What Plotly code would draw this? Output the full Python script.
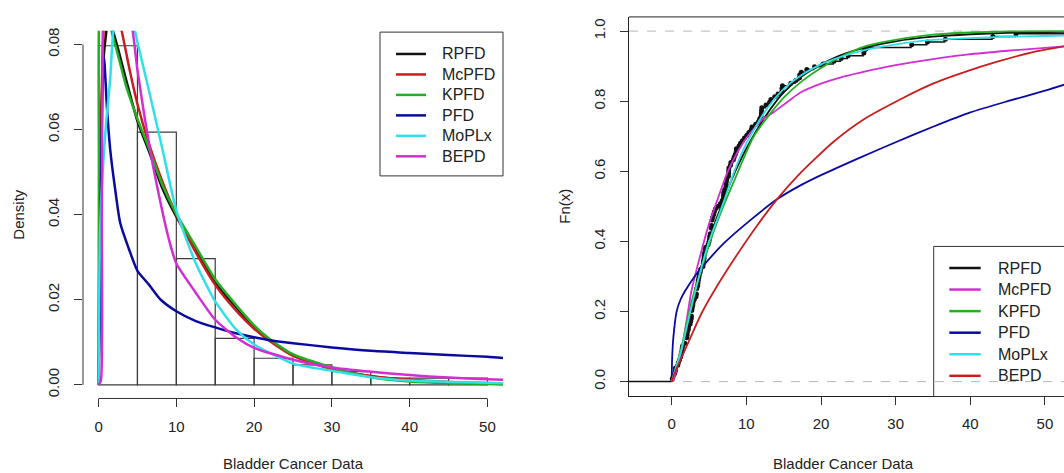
import numpy as np
import plotly.graph_objects as go

# ---------------- data ----------------
bladder_cancer = [
    0.08, 2.09, 3.48, 4.87, 6.94, 8.66, 13.11, 23.63, 0.20, 2.23, 3.52, 4.98, 6.97, 9.02, 13.29,
    0.40, 2.26, 3.57, 5.06, 7.09, 9.22, 13.80, 25.74, 0.50, 2.46, 3.64, 5.09, 7.26, 9.47, 14.24,
    25.82, 0.51, 2.54, 3.70, 5.17, 7.28, 9.74, 14.76, 26.31, 0.81, 2.62, 3.82, 5.32, 7.32, 10.06,
    14.77, 32.15, 2.64, 3.88, 5.32, 7.39, 10.34, 14.83, 34.26, 0.90, 2.69, 4.18, 5.34, 7.59, 10.66,
    15.96, 36.66, 1.05, 2.69, 4.23, 5.41, 7.62, 10.75, 16.62, 43.01, 1.19, 2.75, 4.26, 5.41, 7.63,
    17.12, 46.12, 1.26, 2.83, 4.33, 5.49, 7.66, 11.25, 17.14, 79.05, 1.35, 2.87, 5.62, 7.87, 11.64,
    17.36, 1.40, 3.02, 4.34, 5.71, 7.93, 11.79, 18.10, 1.46, 4.40, 5.85, 8.26, 11.98, 19.13, 1.76,
    3.25, 4.50, 6.25, 8.37, 12.02, 2.02, 3.31, 4.51, 6.54, 8.53, 12.03, 20.28, 2.02, 3.36, 6.76,
    12.07, 21.73, 2.07, 3.36, 6.93, 8.65, 12.63, 22.69,
]
hist_start, hist_end, hist_size = 0, 80, 5

# fitted densities (left panel)
rpfd_pdf_x = [0, 0.1, 0.3, 0.7, 1.3, 1.8, 2.5, 3.5, 5, 6.5, 8.2, 10, 12.4, 15, 17.8, 20, 22, 25, 30, 35, 40, 45, 50, 52]
rpfd_pdf_y = [0, 0.03, 0.06, 0.078, 0.086, 0.0835, 0.079, 0.072, 0.062, 0.0548, 0.0462, 0.0395, 0.0321, 0.0240,
              0.0180, 0.0135, 0.0106, 0.0070, 0.0038, 0.0020, 0.0011, 0.0006, 0.0003, 0.0002]

mcpfd_pdf_x = [0, 0.1, 0.25, 0.5, 0.8, 1.5, 2.2, 3.0, 4, 5, 6.5, 8.2, 10, 12.4, 15, 17.8, 20, 22, 25, 30, 35, 40, 45, 50, 52]
mcpfd_pdf_y = [0, 0.02, 0.05, 0.077, 0.087, 0.092, 0.089, 0.083, 0.074, 0.066, 0.0565, 0.0478, 0.0400, 0.0315,
               0.0235, 0.0172, 0.0132, 0.0103, 0.0068, 0.0037, 0.0021, 0.0012, 0.0007, 0.0004, 0.0003]

kpfd_pdf_x = [0, 0.05, 0.12, 0.6, 1.2, 1.7, 2.5, 3.5, 5, 6.5, 8.2, 10, 12.4, 15, 17.8, 20, 22, 25, 30, 35, 40, 45, 50, 52]
kpfd_pdf_y = [0, 0.05, 0.09, 0.095, 0.09, 0.083, 0.0775, 0.0705, 0.0625, 0.0555, 0.047, 0.0402, 0.0328, 0.0248,
              0.0185, 0.0140, 0.0108, 0.0072, 0.0041, 0.0018, 0.0008, 0.0004, 0.0002, 0.0001]

pfd_pdf_x = [0, 0.15, 0.3, 0.5, 0.7, 1.07, 1.5, 2.14, 2.78, 3.95, 5, 6.5, 8, 10, 12.5, 15, 17.5, 20, 22, 25, 30, 35, 40, 45, 50, 52]
pfd_pdf_y = [0, 0.015, 0.045, 0.07, 0.077, 0.0654, 0.0553, 0.0459, 0.0381, 0.0317, 0.0268, 0.0235, 0.0200, 0.0173,
             0.0150, 0.0135, 0.0122, 0.0112, 0.0105, 0.0098, 0.0088, 0.0080, 0.0075, 0.0070, 0.0066, 0.0063]

moplx_pdf_x = [0, 0.08, 0.26, 0.9, 1.5, 1.9, 2.8, 3.8, 4.7, 5, 6.5, 8.2, 10, 12.4, 15, 17.8, 20, 25, 30, 35, 40, 45, 50, 52]
moplx_pdf_y = [0, 0.02, 0.040, 0.060, 0.072, 0.083, 0.090, 0.089, 0.083, 0.0805, 0.069, 0.0555, 0.0410, 0.029,
               0.0196, 0.0128, 0.0095, 0.0050, 0.0033, 0.0018, 0.0010, 0.0007, 0.0005, 0.0004]

bepd_pdf_x = [0, 0.3, 0.42, 0.55, 0.8, 1.8, 2.8, 3.6, 4.4, 5, 6, 7, 8, 9, 10, 12.4, 15, 17.8, 20, 25, 30, 35, 40, 45, 50, 52]
bepd_pdf_y = [0, 0.001, 0.04, 0.083, 0.095, 0.102, 0.098, 0.09, 0.083, 0.074, 0.062, 0.0515, 0.0425, 0.0345, 0.0285,
              0.0219, 0.0153, 0.0110, 0.0087, 0.0059, 0.0041, 0.0031, 0.0023, 0.0017, 0.0013, 0.0012]

# fitted CDFs (right panel)
rpfd_cdf_x = [0, 0.5, 1.3, 2, 3, 4, 5, 6, 7, 8, 10, 12.5, 15, 17.5, 20, 22.5, 25, 30, 35, 40, 45, 50, 53]
rpfd_cdf_y = [0, 0.03, 0.085, 0.15, 0.245, 0.33, 0.40, 0.465, 0.52, 0.575, 0.665, 0.755, 0.825, 0.872, 0.905,
              0.93, 0.948, 0.971, 0.984, 0.991, 0.995, 0.997, 0.998]

mcpfd_cdf_x = [0.2, 0.6, 1.3, 2, 2.63, 3.95, 5, 5.7, 7.46, 8.77, 10, 12, 13.6, 15, 17.2, 20, 23, 26.1, 30, 35, 39.5, 45, 50, 53]
mcpfd_cdf_y = [0, 0.03, 0.087, 0.175, 0.257, 0.37, 0.45, 0.493, 0.597, 0.653, 0.695, 0.745, 0.768, 0.79, 0.824,
               0.85, 0.87, 0.886, 0.903, 0.92, 0.933, 0.944, 0.952, 0.957]

kpfd_cdf_x = [0, 0.5, 1.3, 2, 3, 4, 5, 6, 7, 8, 9, 10, 11, 12.5, 15, 17.5, 20, 22.5, 26, 30, 35, 40, 45, 53]
kpfd_cdf_y = [0, 0.035, 0.096, 0.165, 0.255, 0.32, 0.39, 0.45, 0.505, 0.555, 0.605, 0.655, 0.70, 0.745, 0.81,
              0.858, 0.895, 0.925, 0.957, 0.975, 0.99, 0.996, 0.999, 1.0]

pfd_cdf_x = [0, 0.05, 0.22, 0.66, 1.2, 1.75, 3.07, 4.82, 7, 10.5, 14.1, 17, 20, 25, 30, 35, 40, 45, 50, 53]
pfd_cdf_y = [0, 0.06, 0.125, 0.20, 0.235, 0.257, 0.30, 0.345, 0.395, 0.46, 0.52, 0.557, 0.589, 0.637, 0.683,
             0.727, 0.768, 0.800, 0.830, 0.85]

moplx_cdf_x = [0, 0.5, 1.3, 2.5, 3.95, 5, 6.14, 7, 8.33, 10, 12.7, 15, 17.2, 20, 21.6, 26.1, 30, 35, 40, 45, 50, 53]
moplx_cdf_y = [0, 0.035, 0.09, 0.2, 0.323, 0.40, 0.465, 0.515, 0.597, 0.68, 0.777, 0.835, 0.872, 0.905, 0.919,
               0.947, 0.962, 0.975, 0.98, 0.984, 0.986, 0.987]

bepd_cdf_x = [0, 0.5, 1.3, 2.5, 4, 6, 9, 11.5, 14.1, 17, 21.6, 25.7, 30.6, 35, 39.5, 43.5, 48.4, 53]
bepd_cdf_y = [0, 0.03, 0.068, 0.125, 0.195, 0.27, 0.37, 0.447, 0.52, 0.59, 0.683, 0.748, 0.805, 0.85, 0.885,
              0.912, 0.94, 0.958]

series_names = ["RPFD", "McPFD", "KPFD", "PFD", "MoPLx", "BEPD"]
left_tickvals_x = [0, 10, 20, 30, 40, 50]
left_tickvals_y = [0.0, 0.02, 0.04, 0.06, 0.08]
left_ticktext_y = ["0.00", "0.02", "0.04", "0.06", "0.08"]
right_tickvals_x = [0, 10, 20, 30, 40, 50]
right_tickvals_y = [0.0, 0.2, 0.4, 0.6, 0.8, 1.0]
right_ticktext_y = ["0.0", "0.2", "0.4", "0.6", "0.8", "1.0"]

# ---------------- styling ----------------
W, H = 1064, 473
FONT = "Liberation Sans, Arial, sans-serif"
BLACK = "#111111"
RED = "#C81E1E"
GREEN = "#22B022"
BLUE = "#0A0AA0"
CYAN = "#30E0E8"
MAGENTA = "#D22ED2"

left_colors = [BLACK, RED, GREEN, BLUE, CYAN, MAGENTA]
right_colors = [BLACK, MAGENTA, GREEN, BLUE, CYAN, RED]

def px_x(p):
    return p / W

def px_y(p):
    return 1 - p / H

LX_RANGE = [-2, 52]
LY_RANGE = [-0.0032, 0.0832]
RX_RANGE = [-5.72, 52.55]
RY_RANGE = [-0.0425, 1.0405]

fig = go.Figure()

# histogram
fig.add_trace(go.Histogram(
    x=bladder_cancer, xaxis="x", yaxis="y",
    histnorm="probability density",
    xbins=dict(start=hist_start, end=hist_end, size=hist_size),
    marker=dict(color="rgba(255,255,255,0)", line=dict(color="#3c3c3c", width=1.2)),
    showlegend=False, hoverinfo="skip",
))

left_curves = [
    (rpfd_pdf_x, rpfd_pdf_y), (mcpfd_pdf_x, mcpfd_pdf_y), (kpfd_pdf_x, kpfd_pdf_y),
    (pfd_pdf_x, pfd_pdf_y), (moplx_pdf_x, moplx_pdf_y), (bepd_pdf_x, bepd_pdf_y),
]
for (cx, cy), name, col in zip(left_curves, series_names, left_colors):
    fig.add_trace(go.Scatter(x=cx, y=cy, mode="lines", name=name, xaxis="x", yaxis="y",
                             line=dict(color=col, width=2.5, shape="spline", smoothing=0.6),
                             showlegend=False))

# empirical CDF (step, no verticals)
knots, counts = np.unique(np.array(bladder_cancer), return_counts=True)
Fn = np.cumsum(counts) / len(bladder_cancer)
seg_x, seg_y = [RX_RANGE[0], float(knots[0]), None], [0.0, 0.0, None]
for i in range(len(knots)):
    x_end = float(knots[i + 1]) if i + 1 < len(knots) else RX_RANGE[1] + 40
    seg_x += [float(knots[i]), x_end, None]
    seg_y += [float(Fn[i]), float(Fn[i]), None]
fig.add_trace(go.Scatter(x=seg_x, y=seg_y, mode="lines", xaxis="x2", yaxis="y2",
                         line=dict(color=BLACK, width=1.5), showlegend=False, hoverinfo="skip"))
fig.add_trace(go.Scatter(x=knots, y=Fn, mode="markers", xaxis="x2", yaxis="y2",
                         marker=dict(color=BLACK, size=5), showlegend=False, cliponaxis=True))

right_curves = [
    (rpfd_cdf_x, rpfd_cdf_y), (mcpfd_cdf_x, mcpfd_cdf_y), (kpfd_cdf_x, kpfd_cdf_y),
    (pfd_cdf_x, pfd_cdf_y), (moplx_cdf_x, moplx_cdf_y), (bepd_cdf_x, bepd_cdf_y),
]
for (cx, cy), name, col in zip(right_curves, series_names, right_colors):
    fig.add_trace(go.Scatter(x=cx, y=cy, mode="lines", name=name, xaxis="x2", yaxis="y2",
                             line=dict(color=col, width=1.8, shape="spline", smoothing=0.6),
                             showlegend=False))

tickfont = dict(family=FONT, size=15, color="#222")
common_axis = dict(showgrid=False, zeroline=False, ticks="outside", ticklen=8, tickwidth=1,
                   tickcolor="#333", tickfont=tickfont, fixedrange=True)

fig.update_layout(
    width=W, height=H,
    margin=dict(l=0, r=0, t=0, b=0),
    paper_bgcolor="white", plot_bgcolor="white",
    showlegend=False,
    xaxis=dict(domain=[px_x(83), px_x(503)], range=LX_RANGE, tickvals=left_tickvals_x,
               showline=False, anchor="y", ticklabelstandoff=7, **common_axis),
    yaxis=dict(domain=[px_y(398), px_y(28)], range=LY_RANGE, tickvals=left_tickvals_y,
               ticktext=left_ticktext_y, tickangle=-90, showline=False, anchor="x",
               ticklabelstandoff=9, **common_axis),
    xaxis2=dict(domain=[px_x(629), 1.0], range=RX_RANGE, tickvals=right_tickvals_x,
                showline=True, linecolor="#222", linewidth=1, anchor="y2",
                ticklabelstandoff=6, **common_axis),
    yaxis2=dict(domain=[px_y(396), px_y(14)], range=RY_RANGE, tickvals=right_tickvals_y,
                ticktext=right_ticktext_y, tickangle=-90, showline=True, linecolor="#222",
                linewidth=1, anchor="x2", ticklabelstandoff=9, **common_axis),
)

shapes = []
# left axis lines (R style: span first..last tick)
shapes.append(dict(type="line", xref="x", yref="y domain", x0=left_tickvals_x[0], x1=left_tickvals_x[-1],
                   y0=0, y1=0, line=dict(color="#333", width=1)))
shapes.append(dict(type="line", xref="x domain", yref="y", x0=0, x1=0, y0=left_tickvals_y[0],
                   y1=left_tickvals_y[-1], line=dict(color="#333", width=1)))
# right box top line
shapes.append(dict(type="line", xref="x2 domain", yref="y2 domain", x0=0, x1=1, y0=1, y1=1,
                   line=dict(color="#222", width=1)))
# dashed 0/1 lines
for yv in (0, 1):
    shapes.append(dict(type="line", xref="x2 domain", yref="y2", x0=0, x1=1, y0=yv, y1=yv,
                       line=dict(color="#b8b8b8", width=1, dash="dash"), layer="below"))

annotations = []
# legends
def add_legend(box, line_x, text_x, row_y0, row_dy, colors):
    x0, y0, x1, y1 = box
    shapes.append(dict(type="rect", xref="paper", yref="paper", x0=px_x(x0), x1=px_x(x1),
                       y0=px_y(y1), y1=px_y(y0), line=dict(color="#333", width=1),
                       fillcolor="rgba(0,0,0,0)", layer="above"))
    for i, (name, col) in enumerate(zip(series_names, colors)):
        yy = row_y0 + i * row_dy
        shapes.append(dict(type="line", xref="paper", yref="paper", x0=px_x(line_x[0]), x1=px_x(line_x[1]),
                           y0=px_y(yy), y1=px_y(yy), line=dict(color=col, width=2.5)))
        annotations.append(dict(xref="paper", yref="paper", x=px_x(text_x), y=px_y(yy), text=name,
                                showarrow=False, xanchor="left", yanchor="middle",
                                font=dict(family=FONT, size=16, color="#222")))

add_legend((380, 29.3, 503, 174), (396, 426), 440, 51.3, 20.6, left_colors)
add_legend((933.7, 245, 1075, 396), (949.3, 980.7), 995.7, 266.7, 21.7, right_colors)

# axis titles
title_font = dict(family=FONT, size=15, color="#222")
annotations.append(dict(xref="paper", yref="paper", x=px_x(293), y=px_y(463), text="Bladder Cancer Data",
                        showarrow=False, xanchor="center", yanchor="middle", font=title_font))
annotations.append(dict(xref="paper", yref="paper", x=px_x(843), y=px_y(463), text="Bladder Cancer Data",
                        showarrow=False, xanchor="center", yanchor="middle", font=title_font))
annotations.append(dict(xref="paper", yref="paper", x=px_x(19), y=px_y(213), text="Density",
                        showarrow=False, xanchor="center", yanchor="middle", textangle=-90, font=title_font))
annotations.append(dict(xref="paper", yref="paper", x=px_x(565), y=px_y(205), text="Fn(x)",
                        showarrow=False, xanchor="center", yanchor="middle", textangle=-90, font=title_font))

fig.update_layout(shapes=shapes, annotations=annotations)

fig.write_html(
    "out.html",
    config={"displayModeBar": False, "staticPlot": True},
    post_script="document.body.style.margin='0';document.body.style.overflow='hidden';",
)
